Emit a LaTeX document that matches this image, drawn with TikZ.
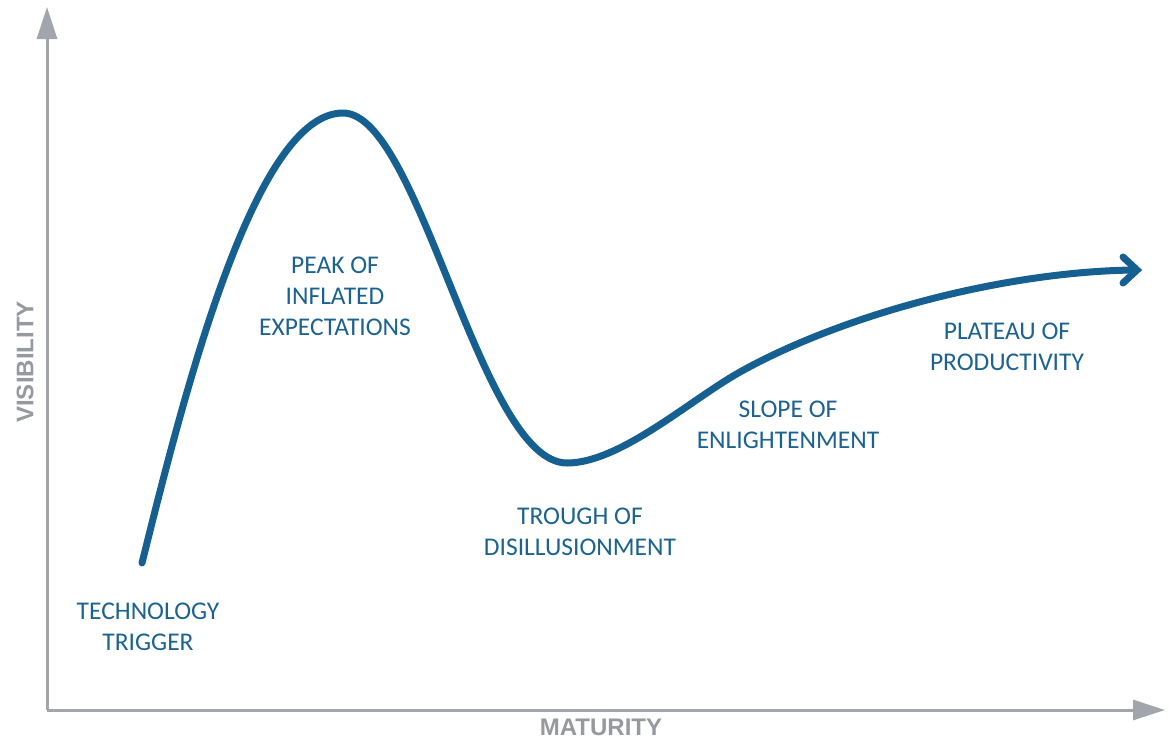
\documentclass[tikz,border=0pt]{standalone}
\usepackage{fontspec}
\setmainfont{Carlito}
\newfontfamily\axisfont{Liberation Sans}
\usetikzlibrary{arrows.meta}
\definecolor{axisgray}{RGB}{162,166,172}
\definecolor{labelgray}{RGB}{150,153,158}
\definecolor{curveblue}{RGB}{22,96,145}
\definecolor{textblue}{RGB}{28,98,145}
\tikzset{
  axisline/.style={draw=axisgray, line width=3pt, -{Triangle[length=32pt,width=20pt]}},
  axislabel/.style={text=labelgray, font=\axisfont\bfseries\fontsize{24}{28}\selectfont},
  phase/.style={text=textblue, align=center, font=\fontsize{25.5}{31}\selectfont},
  hype/.style={draw=curveblue, line width=7pt, line cap=round, line join=round}
}
\begin{document}
\begin{tikzpicture}[x=1pt,y=-1pt]
\useasboundingbox (0,0) rectangle (1169,739);
\coordinate (O) at (47,710);
\coordinate (ytop) at (47,7);
\coordinate (xend) at (1165,710);
\draw[axisline] (O) -- (ytop);
\draw[axisline] (O) -- (xend);
\node[axislabel] (mat) at (601,727) {MATURITY};
\node[axislabel, rotate=90] (vis) at (25,362) {VISIBILITY};
\coordinate (start) at (142,563);
\coordinate (peak) at (343,113);
\coordinate (trough) at (567,463);
\coordinate (slope) at (740,372);
\coordinate (tip) at (1133,270);
\draw[hype] (start) .. controls (185,390) and (255,113) .. (peak)
  .. controls (420,113) and (480,463) .. (trough)
  .. controls (620,463) and (690,400) .. (slope)
  .. controls (840,316) and (1000,272) .. (tip);
\draw[hype, line join=miter] (1123,257) -- (1137,270) -- (1123,283);
\node[phase] (tt) at (148,627) {TECHNOLOGY\\TRIGGER};
\node[phase] (pk) at (335,296) {PEAK OF\\INFLATED\\EXPECTATIONS};
\node[phase] (tr) at (580,532) {TROUGH OF\\DISILLUSIONMENT};
\node[phase] (sl) at (788,425) {SLOPE OF\\ENLIGHTENMENT};
\node[phase] (pl) at (1007,347) {PLATEAU OF\\PRODUCTIVITY};
\end{tikzpicture}
\end{document}
